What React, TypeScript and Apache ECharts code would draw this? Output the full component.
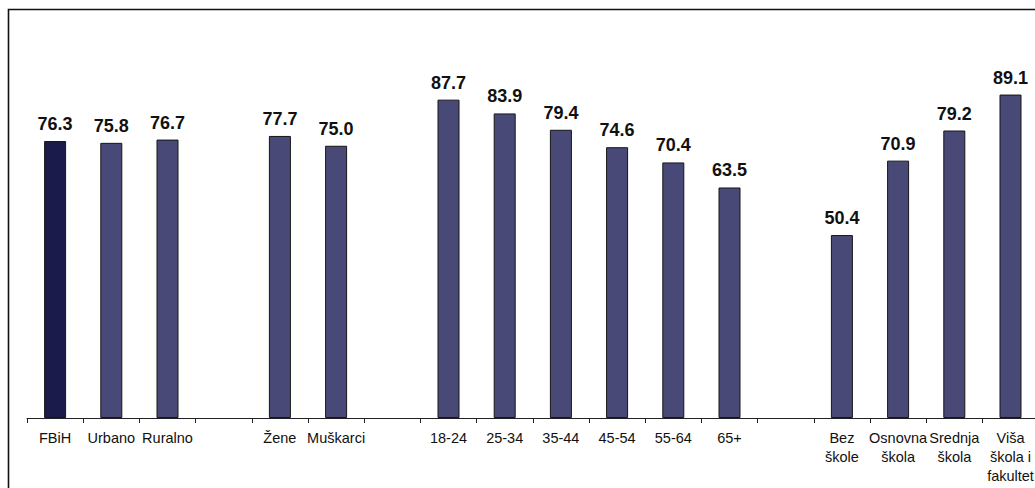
import React, { useEffect, useRef } from "react";
import * as echarts from "echarts";

const categories: string[] = [
  "FBiH",
  "Urbano",
  "Ruralno",
  "",
  "Žene",
  "Muškarci",
  "",
  "18-24",
  "25-34",
  "35-44",
  "45-54",
  "55-64",
  "65+",
  "",
  "Bez\nškole",
  "Osnovna\nškola",
  "Srednja\nškola",
  "Viša\nškola i\nfakultet",
];

const values: (number | null)[] = [
  76.3, 75.8, 76.7, null, 77.7, 75.0, null, 87.7, 83.9, 79.4, 74.6, 70.4, 63.5, null, 50.4, 70.9, 79.2, 89.1,
];

const highlightCategory = "FBiH";

export default function App() {
  const ref = useRef<HTMLDivElement>(null);

  useEffect(() => {
    if (!ref.current) return;
    const chart = echarts.init(ref.current, null, { renderer: "svg" });
    const data = values.map((v, i) => ({
      value: v === null ? "-" : v,
      itemStyle: {
        color: categories[i] === highlightCategory ? "#1B1B4B" : "#494978",
        borderColor: "#151515",
        borderWidth: 1,
      },
    }));
    chart.setOption({
      animation: false,
      backgroundColor: "#ffffff",
      graphic: [
        {
          type: "rect",
          shape: { x: 8.5, y: 9.5, width: 1200, height: 700 },
          style: { fill: "none", stroke: "#111", lineWidth: 1.6 },
          silent: true,
          z: 10,
        },
      ],
      grid: {
        left: 27,
        top: 55,
        width: 1011.6,
        height: 363,
        containLabel: false,
        outerBoundsMode: "none",
      },
      xAxis: {
        type: "category",
        data: categories,
        axisLine: { show: true, lineStyle: { color: "#222", width: 1 } },
        axisTick: { show: true, interval: 0, length: 5, lineStyle: { color: "#222" } },
        axisLabel: {
          interval: 0,
          color: "#111",
          fontFamily: "Liberation Sans, Arial, sans-serif",
          fontSize: 14.5,
          lineHeight: 19,
          margin: 10,
        },
      },
      yAxis: {
        type: "value",
        min: 0,
        max: 100,
        show: false,
        splitLine: { show: false },
      },
      series: [
        {
          type: "bar",
          data,
          barWidth: 22,
          label: {
            show: true,
            position: "top",
            distance: 8,
            color: "#111",
            fontFamily: "Liberation Sans, Arial, sans-serif",
            fontWeight: "bold",
            fontSize: 18,
            formatter: (p: any) => (typeof p.value === "number" ? p.value.toFixed(1) : ""),
          },
        },
      ],
    });
    return () => chart.dispose();
  }, []);

  return (
    <div
      ref={ref}
      style={{ position: "absolute", left: 0, top: 0, width: 1035, height: 488 }}
    />
  );
}
